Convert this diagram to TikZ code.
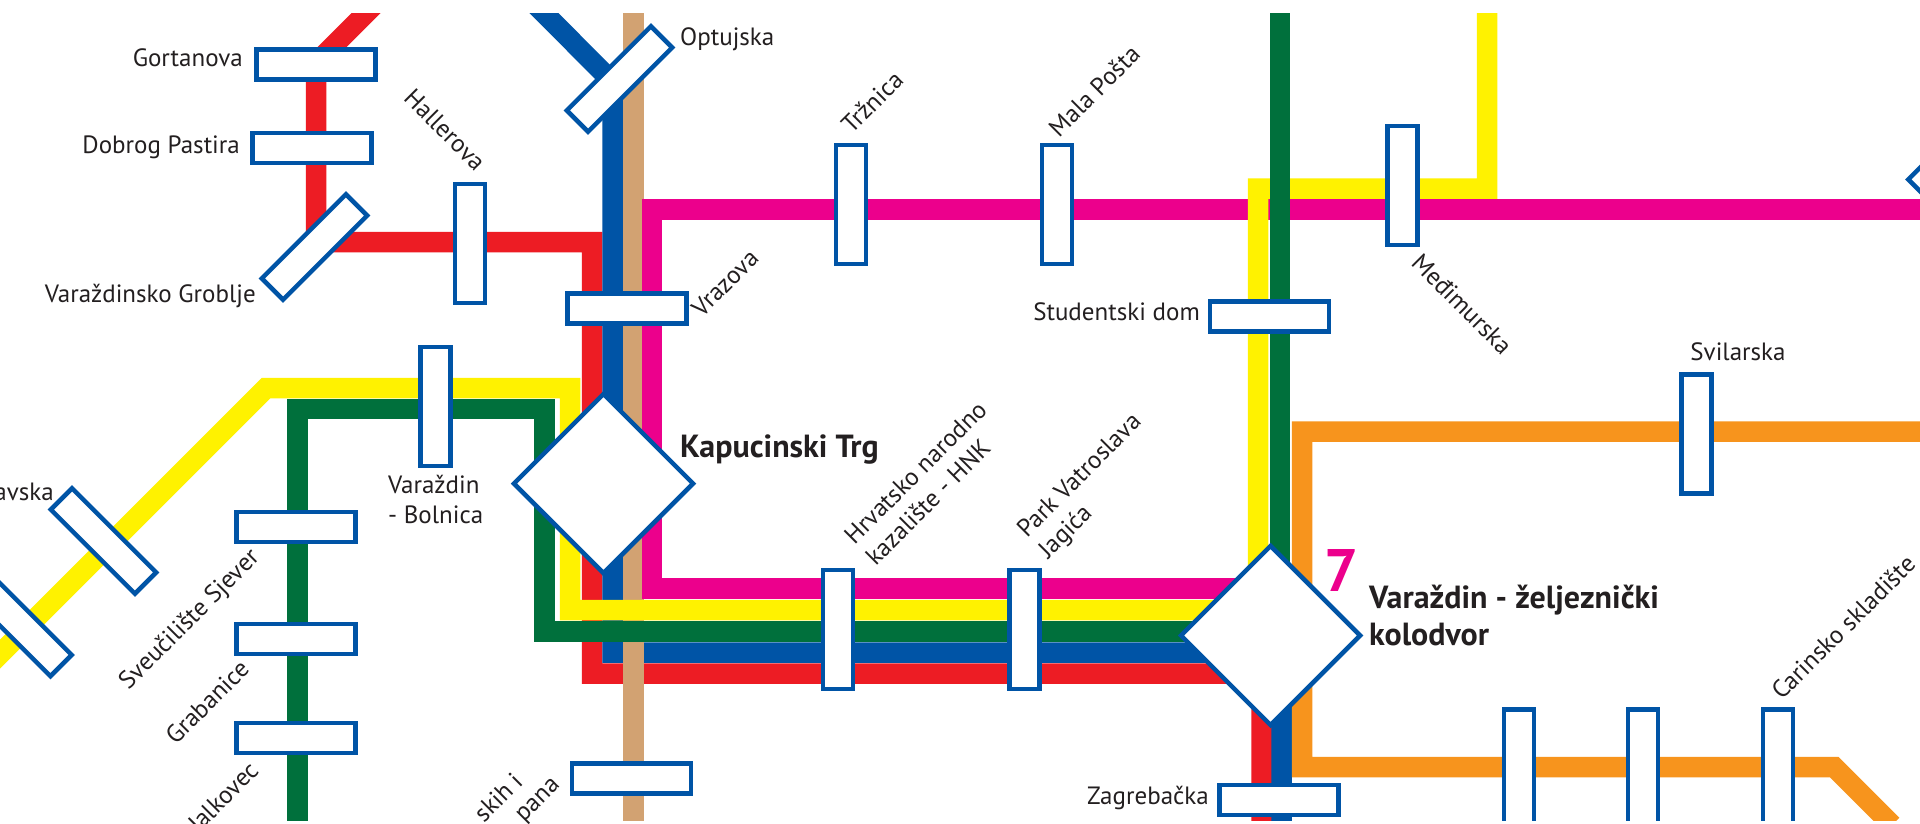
\documentclass[tikz,border=0pt]{standalone}
\usepackage{fontspec}
\setmainfont{PT Sans}
\usetikzlibrary{shapes.geometric}
\definecolor{lred}{HTML}{ED1C24}
\definecolor{lblue}{HTML}{0054A6}
\definecolor{ltan}{HTML}{D2A272}
\definecolor{lmag}{HTML}{EC008C}
\definecolor{lyel}{HTML}{FFF200}
\definecolor{lgreen}{HTML}{00703C}
\definecolor{lorange}{HTML}{F7941D}
\definecolor{ink}{HTML}{231F20}
\tikzset{
  x=1pt,y=-1pt,
  route/.style={line width=20.5pt,line join=miter,line cap=butt},
  hstop/.style={draw=lblue,fill=white,line width=4.5pt,minimum width=119pt,minimum height=30pt,inner sep=0pt,rectangle},
  vstop/.style={hstop,minimum width=30pt,minimum height=119pt},
  hub/.style={draw=lblue,fill=white,line width=4.5pt,diamond,aspect=1,inner sep=0pt,minimum width=181pt,minimum height=181pt},
  lab/.style={text=ink,font=\fontsize{25}{30}\selectfont,inner sep=0pt,align=left},
  blab/.style={text=ink,font=\fontsize{32}{37}\selectfont\bfseries,inner sep=0pt,align=left},
}
\begin{document}
\begin{tikzpicture}
\useasboundingbox (0,0) rectangle (1920,823);
\fill[white] (0,0) rectangle (1920,823);
% bend points
\coordinate (r0) at (376,3);
\coordinate (r1) at (316,63);
\coordinate (r2) at (316,242);
\coordinate (r3) at (592,242);
\coordinate (r4) at (592,673.5);
\coordinate (r5) at (1261.5,673.5);
\coordinate (r6) at (1261.5,823);
\coordinate (b0) at (534,3);
\coordinate (b1) at (612.5,82);
\coordinate (b2) at (612.5,652.5);
\coordinate (b3) at (1281.5,652.5);
\coordinate (b4) at (1281.5,823);
\coordinate (t0) at (633.5,13);
\coordinate (t1) at (633.5,823);
\coordinate (m0) at (1920,209.5);
\coordinate (m1) at (652,209.5);
\coordinate (m2) at (652,588.5);
\coordinate (m3) at (1260,588.5);
\coordinate (y0) at (-12,666);
\coordinate (y1) at (266,388);
\coordinate (y2) at (570,388);
\coordinate (y3) at (570,610);
\coordinate (y4) at (1258,610);
\coordinate (y5) at (1258,188.5);
\coordinate (y6) at (1487,188.5);
\coordinate (y7) at (1487,13);
\coordinate (g0) at (297.5,823);
\coordinate (g1) at (297.5,409);
\coordinate (g2) at (544.5,409);
\coordinate (g3) at (544.5,631.5);
\coordinate (g4) at (1280,631.5);
\coordinate (g5) at (1280,13);
\coordinate (o0) at (1920,431.5);
\coordinate (o1) at (1302,431.5);
\coordinate (o2) at (1302,767);
\coordinate (o3) at (1834,767);
\coordinate (o4) at (1892,825);
\begin{scope}
\clip (0,13) rectangle (1920,820);
\draw[route,lred] (r0)--(r1)--(r2)--(r3)--(r4)--(r5)--(r6);
\draw[route,lblue] (b0)--(b1)--(b2)--(b3)--(b4);
\draw[route,ltan] (t0)--(t1);
\draw[route,lmag] (m0)--(m1)--(m2)--(m3);
\draw[route,lyel] (y0)--(y1)--(y2)--(y3)--(y4)--(y5)--(y6)--(y7);
\draw[route,lgreen] (g0)--(g1)--(g2)--(g3)--(g4)--(g5);
\draw[route,lorange] (o0)--(o1)--(o2)--(o3)--(o4);
\node[hstop] (gortanova) at (316,64.5) {};
\node[hstop] (dobrog) at (312,148) {};
\node[hstop,rotate=45] (groblje) at (314.5,247) {};
\node[vstop] (hallerova) at (470,243.5) {};
\node[hstop,rotate=45] (optujska) at (619.5,79) {};
\node[hstop] (vrazova) at (627,308.3) {};
\node[vstop] (bolnica) at (435.5,406.5) {};
\node[hstop,rotate=-45] (avska) at (103.5,541) {};
\node[hstop,rotate=-45] (cutstop) at (19,623.5) {};
\node[hstop] (sjever) at (296,527) {};
\node[hstop] (grabanice) at (296,639) {};
\node[hstop] (jalkovec) at (296,738) {};
\node[hstop] (zupana) at (631.5,778.5) {};
\node[vstop] (trznica) at (851,204.5) {};
\node[vstop] (malaposta) at (1057,204.5) {};
\node[vstop] (medimurska) at (1402.5,185.7) {};
\node[hstop] (studentski) at (1269.5,316.3) {};
\node[vstop] (svilarska) at (1696.5,434) {};
\node[vstop] (hnk) at (838,629.7) {};
\node[vstop] (park) at (1024.5,629.7) {};
\node[hstop] (zagrebacka) at (1279,800) {};
\node[vstop] (sa) at (1519,769) {};
\node[vstop] (sb) at (1643,769) {};
\node[vstop] (carinsko) at (1778,769) {};
\node[hstop,rotate=45] (edgestop) at (1961,148) {};
\node[hub] (kapucinski) at (603.5,483.5) {};
\node[hub] (kolodvor) at (1270.5,635.5) {};
\end{scope}
\node[lab,anchor=east] (t1) at (243,58) {Gortanova};
\node[lab,anchor=east] (t2) at (240,147) {Dobrog Pastira};
\node[lab,anchor=east] (t3) at (256,296) {Varaždinsko Groblje};
\node[lab,rotate=-45] (t4) at (445,130) {Hallerova};
\node[lab,anchor=west] (t5) at (680,39) {Optujska};
\node[lab,rotate=45] (t6) at (725,283) {Vrazova};
\node[lab,anchor=north west] (t7) at (388,475) {Varaždin\\- Bolnica};
\node[lab,anchor=east] (t8) at (54,491.7) {avska};
\node[lab,rotate=45] (t9) at (190,620) {Sveučilište Sjever};
\node[lab,rotate=45] (t10) at (207,702) {Grabanice};
\node[lab,rotate=45,anchor=east] (t11) at (254,766) {Jalkovec};
\node[lab,rotate=45,anchor=east] (t24) at (518,777) {skih i};
\node[lab,rotate=45,anchor=east] (t25) at (558,783) {pana};
\node[lab,rotate=45] (t12) at (872,102) {Tržnica};
\node[lab,rotate=45] (t13) at (1094,91) {Mala Pošta};
\node[lab,rotate=-45] (t14) at (1462,304) {Međimurska};
\node[lab,anchor=east] (t15) at (1200,312) {Studentski dom};
\node[lab] (t16) at (1738,352) {Svilarska};
\node[lab,rotate=45] (t17) at (926,483) {Hrvatsko narodno\\kazalište - HNK};
\node[lab,rotate=45] (t18) at (1091,487) {Park Vatroslava\\Jagića};
\node[lab,anchor=east] (t19) at (1209,798) {Zagrebačka};
\node[lab,rotate=45] (t20) at (1843,627) {Carinsko skladište};
\node[blab,anchor=west] (t21) at (680,450) {Kapucinski Trg};
\node[blab,anchor=north west] (t22) at (1369,585) {Varaždin - željeznički\\kolodvor};
\node[text=lmag,font=\fontsize{60}{60}\selectfont\bfseries,inner sep=0pt] (t23) at (1341,570) {7};
\end{tikzpicture}
\end{document}
